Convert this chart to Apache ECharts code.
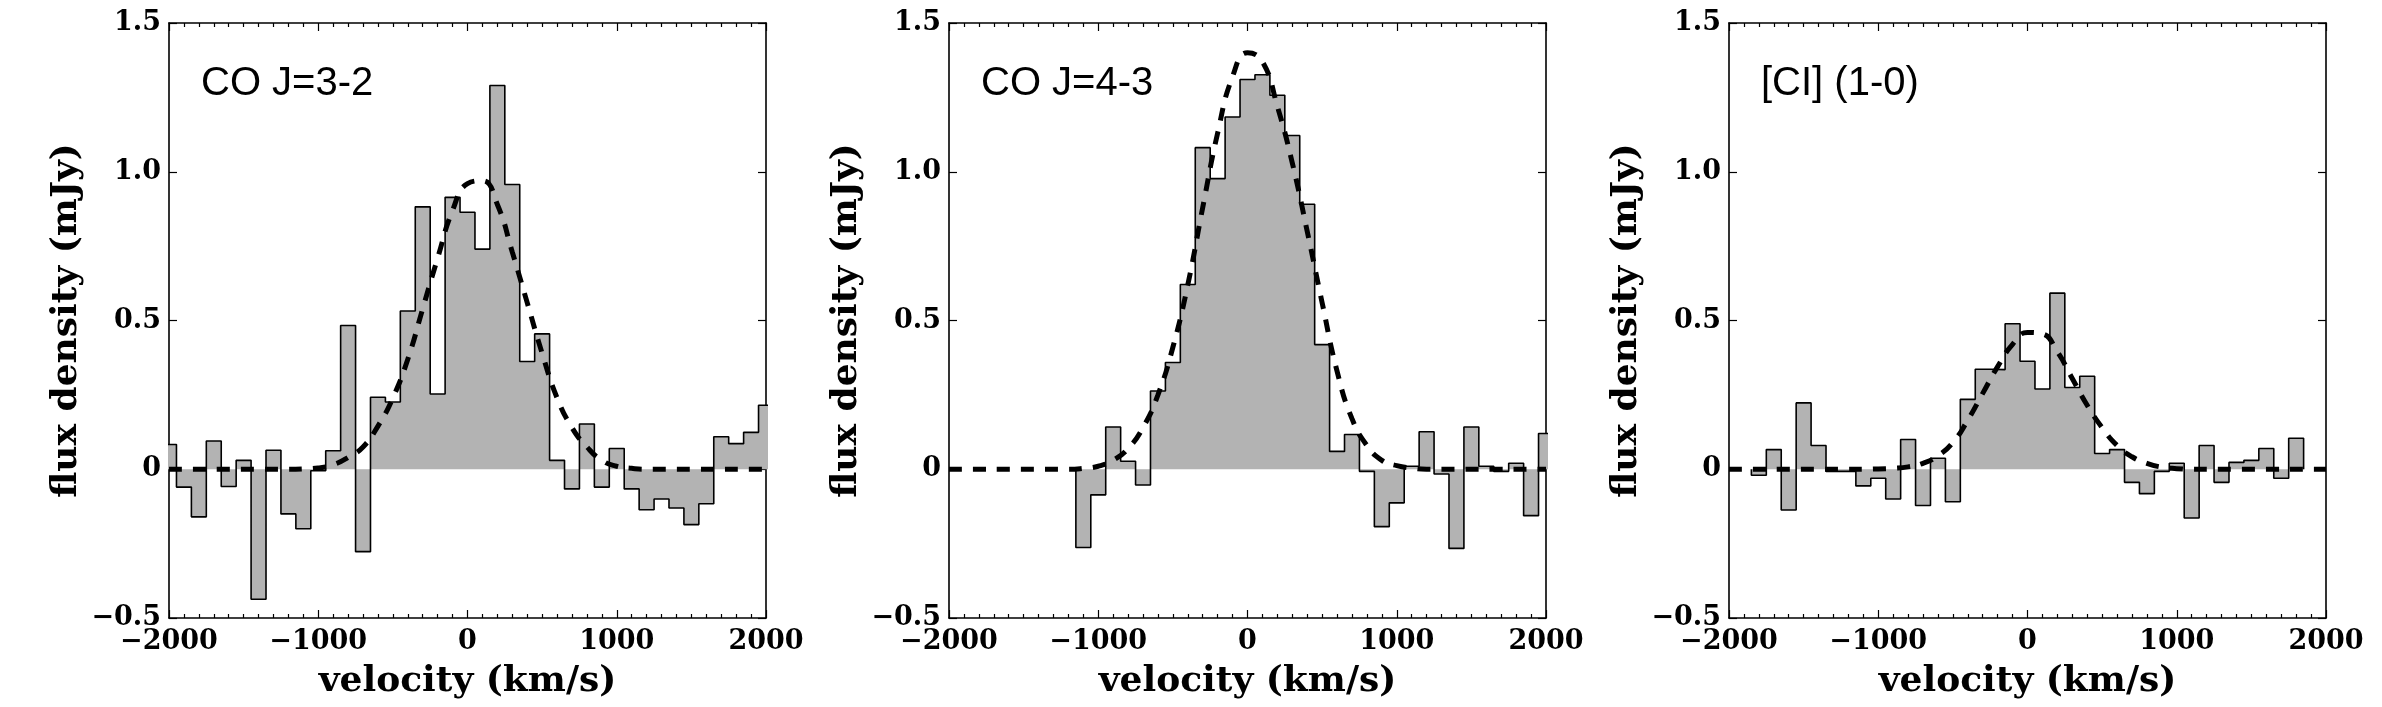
<!DOCTYPE html>
<html>
<head>
<meta charset="utf-8">
<script src="https://cdn.jsdelivr.net/npm/echarts@6.0.0/dist/echarts.min.js"></script>
<style>
  html, body { margin: 0; padding: 0; background: #fff; }
  #chart { width: 2382px; height: 707px; }
</style>
</head>
<body>
<div id="chart"></div>
<script>
// panel titles
const panelNames = ['CO J=3-2', 'CO J=4-3', '[CI] (1-0)']

// channel width (km/s)
const binWidth = 100

// CO J=3-2 spectrum: channel centres (km/s) and flux (mJy)
const velCO32 = [-2000, -1900, -1800, -1700, -1600, -1500, -1400, -1300, -1200, -1100, -1000, -900, -800, -700, -600, -500, -400, -300, -200, -100, 0, 100, 200, 300, 400, 500, 600, 700, 800, 900, 1000, 1100, 1200, 1300, 1400, 1500, 1600, 1700, 1800, 1900, 2000]
const fluxCO32 = [0.083, -0.06, -0.16, 0.095, -0.058, 0.03, -0.437, 0.064, -0.15, -0.20, -0.005, 0.062, 0.483, -0.277, 0.242, 0.226, 0.532, 0.882, 0.253, 0.914, 0.864, 0.74, 1.29, 0.957, 0.362, 0.455, 0.03, -0.066, 0.152, -0.06, 0.07, -0.066, -0.136, -0.10, -0.13, -0.186, -0.116, 0.109, 0.086, 0.124, 0.215]

// CO J=4-3 spectrum
const velCO43 = [-1100, -1000, -900, -800, -700, -600, -500, -400, -300, -200, -100, 0, 100, 200, 300, 400, 500, 600, 700, 800, 900, 1000, 1100, 1200, 1300, 1400, 1500, 1600, 1700, 1800, 1900, 2000]
const fluxCO43 = [-0.263, -0.086, 0.142, 0.027, -0.053, 0.263, 0.359, 0.621, 1.081, 0.977, 1.184, 1.31, 1.326, 1.257, 1.122, 0.891, 0.419, 0.06, 0.117, -0.007, -0.193, -0.113, 0.01, 0.126, -0.016, -0.266, 0.142, 0.01, -0.007, 0.02, -0.156, 0.12]

// [CI] (1-0) spectrum
const velCI = [-1800, -1700, -1600, -1500, -1400, -1300, -1200, -1100, -1000, -900, -800, -700, -600, -500, -400, -300, -200, -100, 0, 100, 200, 300, 400, 500, 600, 700, 800, 900, 1000, 1100, 1200, 1300, 1400, 1500, 1600, 1700, 1800]
const fluxCI = [-0.02, 0.066, -0.137, 0.223, 0.08, -0.007, -0.007, -0.056, -0.03, -0.1, 0.1, -0.122, 0.037, -0.109, 0.235, 0.336, 0.335, 0.489, 0.363, 0.27, 0.592, 0.275, 0.3125, 0.053, 0.066, -0.044, -0.082, -0.007, 0.02, -0.164, 0.08, -0.044, 0.023, 0.03, 0.07, -0.03, 0.104]

// gaussian fits
const fitVel = [-2000, -1200, -1100, -1000, -900, -800, -700, -600, -500, -400, -300, -200, -100, 0, 100, 200, 300, 400, 500, 600, 700, 800, 900, 1000, 1100, 1200, 2000]
const fitCO32 = [0, 0, 0.001, 0.004, 0.015, 0.04, 0.075, 0.145, 0.24, 0.37, 0.54, 0.71, 0.87, 0.96, 0.97, 0.89, 0.73, 0.56, 0.39, 0.24, 0.14, 0.075, 0.03, 0.01, 0.003, 0, 0]
const fitCO43 = [0, 0, 0.003, 0.01, 0.03, 0.07, 0.14, 0.25, 0.41, 0.62, 0.88, 1.13, 1.32, 1.40, 1.37, 1.22, 1.03, 0.80, 0.56, 0.33, 0.17, 0.08, 0.03, 0.012, 0.004, 0, 0]
const fitCI = [0, 0, 0, 0.001, 0.003, 0.008, 0.02, 0.045, 0.09, 0.165, 0.255, 0.345, 0.42, 0.46, 0.455, 0.395, 0.305, 0.215, 0.14, 0.08, 0.042, 0.02, 0.007, 0.002, 0, 0, 0]

// tick labels
const xTickVals = [-2000, -1000, 0, 1000, 2000]
const xTickLabels = ['\u22122000', '\u22121000', '0', '1000', '2000']
const yTickVals = [-0.5, 0, 0.5, 1.0, 1.5]
const yTickLabels = ['\u22120.5', '0', '0.5', '1.0', '1.5']

const spectra = [
  { vel: velCO32, flux: fluxCO32, fit: fitCO32 },
  { vel: velCO43, flux: fluxCO43, fit: fitCO43 },
  { vel: velCI, flux: fluxCI, fit: fitCI }
]

// layout
const gridLeft = [169, 949, 1729]
const gridWidth = 597
const gridTop = 23
const gridHeight = 595

const tickFont = 'DejaVu Serif'

function pick (vals, labels, v) {
  let best = 0
  vals.forEach((t, i) => { if (Math.abs(t - v) < Math.abs(vals[best] - v)) best = i })
  return labels[best]
}

// histogram outline: flat top over each channel, closed down to zero at both ends
function stepPoints (vel, flux) {
  const half = binWidth / 2
  const pts = [[vel[0] - half, 0]]
  vel.forEach((v, i) => {
    pts.push([v - half, flux[i]])
    pts.push([v + half, flux[i]])
  })
  pts.push([vel[vel.length - 1] + half, 0])
  return pts
}

const axisLine = { show: true, onZero: false, lineStyle: { color: '#000', width: 1.6 } }
const tickStyle = { color: '#000', width: 1.2 }

const grid = []
const xAxis = []
const yAxis = []
const series = []
const graphic = []

spectra.forEach((s, i) => {
  grid.push({ left: gridLeft[i], top: gridTop, width: gridWidth, height: gridHeight, outerBoundsMode: 'none' })

  const xBase = {
    gridIndex: i,
    type: 'value',
    min: -2000,
    max: 2000,
    interval: 1000,
    axisLine: axisLine,
    axisTick: { show: true, inside: true, length: 8, lineStyle: tickStyle },
    minorTick: { show: true, splitNumber: 10, length: 4, lineStyle: tickStyle },
    splitLine: { show: false },
    minorSplitLine: { show: false }
  }
  xAxis.push(Object.assign({}, xBase, {
    position: 'bottom',
    name: 'velocity (km/s)',
    nameLocation: 'middle',
    nameGap: 46,
    nameTextStyle: { fontFamily: tickFont, fontWeight: 'bold', fontSize: 36, color: '#000' },
    axisLabel: {
      show: true,
      margin: 10,
      showMinLabel: true,
      showMaxLabel: true,
      fontFamily: tickFont,
      fontWeight: 'bold',
      fontSize: 27,
      color: '#000',
      formatter: v => pick(xTickVals, xTickLabels, v)
    }
  }))
  xAxis.push(Object.assign({}, xBase, { position: 'top', axisLabel: { show: false } }))

  const yBase = {
    gridIndex: i,
    type: 'value',
    min: -0.5,
    max: 1.5,
    interval: 0.5,
    axisLine: axisLine,
    axisTick: { show: true, inside: true, length: 8, lineStyle: tickStyle },
    splitLine: { show: false }
  }
  yAxis.push(Object.assign({}, yBase, {
    position: 'left',
    name: 'flux density (mJy)',
    nameLocation: 'middle',
    nameRotate: 90,
    nameGap: 84,
    nameTextStyle: { fontFamily: tickFont, fontWeight: 'bold', fontSize: 36, color: '#000' },
    axisLabel: {
      show: true,
      margin: 8,
      showMinLabel: true,
      showMaxLabel: true,
      fontFamily: tickFont,
      fontWeight: 'bold',
      fontSize: 27,
      color: '#000',
      formatter: v => pick(yTickVals, yTickLabels, v)
    }
  }))
  yAxis.push(Object.assign({}, yBase, { position: 'right', axisLabel: { show: false } }))

  series.push({
    type: 'line',
    xAxisIndex: 2 * i,
    yAxisIndex: 2 * i,
    data: stepPoints(s.vel, s.flux),
    symbol: 'none',
    lineStyle: { color: '#000', width: 1.6 },
    areaStyle: { color: '#b3b3b3', opacity: 1 },
    z: 2
  })
  series.push({
    type: 'line',
    xAxisIndex: 2 * i,
    yAxisIndex: 2 * i,
    data: fitVel.map((v, k) => [v, s.fit[k]]),
    symbol: 'none',
    smooth: 0.5,
    lineStyle: { color: '#000', width: 5, type: [13, 11] },
    z: 3
  })

  graphic.push({
    type: 'text',
    left: gridLeft[i] + 32,
    top: 64,
    style: { text: panelNames[i], font: '40px "Liberation Sans"', fill: '#000' },
    z: 10
  })
})

const chart = echarts.init(document.getElementById('chart'))
chart.setOption({
  backgroundColor: '#fff',
  animation: false,
  grid: grid,
  xAxis: xAxis,
  yAxis: yAxis,
  series: series,
  graphic: graphic
})
</script>
</body>
</html>
